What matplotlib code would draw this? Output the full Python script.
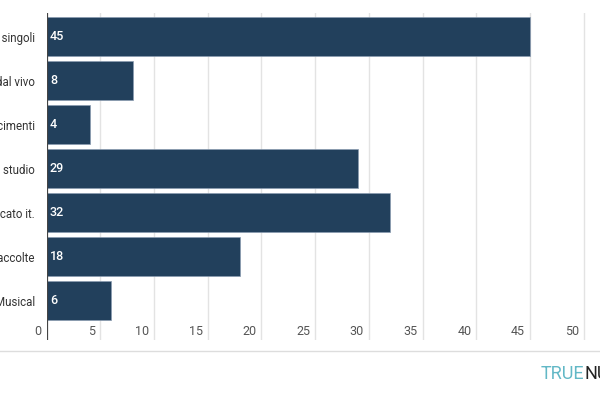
import matplotlib.pyplot as plt
import numpy as np

# dati
categorie = ['EP e singoli', 'Album dal vivo', 'Rifacimenti', 'Album in studio',
             'Fuori mercato it.', 'Raccolte', 'Musical']
valori = [45, 8, 4, 29, 32, 18, 6]
tick_x = [0, 5, 10, 15, 20, 25, 30, 35, 40, 45, 50]

plt.rcParams['font.family'] = ['Roboto', 'DejaVu Sans']

fig = plt.figure(figsize=(6, 4), dpi=100)
fig.patch.set_facecolor('white')
# assi: zero a x=46.7px, 10.74px per unita', da y=13 a y=340
ax = fig.add_axes([46.7 / 600, 1 - 340 / 400, 55 * 10.74 / 600, 327 / 400])

y = np.arange(len(categorie))
ax.barh(y, valori, height=0.886, color='#22405c', edgecolor='#8a9bb0', linewidth=0.5, zorder=3)
ax.set_ylim(6.89, -0.54)
ax.set_xlim(0, 55)

for t in tick_x[1:] + [55]:
    ax.axvline(t, color='#e3e3e3', lw=1, zorder=1)
ax.axvline(0, color='#444444', lw=1.6, zorder=4)

for i, v in enumerate(valori):
    ax.text(0.3, i, str(v), color='white', fontsize=9, fontweight='medium',
            va='center', ha='left', zorder=5)

trans = ax.get_xaxis_transform()
for t in tick_x:
    ax.text(t - 0.45, 0.025, str(t), transform=trans, ha='right', va='center',
            fontsize=9, color='#555555')

ax.set_yticks(y)
ax.set_yticklabels(categorie, fontsize=8.3, color='#333333')
ax.tick_params(axis='y', length=0, pad=8.5)
ax.set_xticks([])
for s in ax.spines.values():
    s.set_visible(False)

# linea di separazione e logo
fig.add_artist(plt.Line2D([0, 1], [1 - 351 / 400, 1 - 351 / 400], color='#dddddd', lw=1))
t1 = fig.text(541 / 600, 1 - 374 / 400, 'TRUE', color='#62b8c6', fontsize=13, va='center', ha='left')
fig.canvas.draw()
bb = t1.get_window_extent()
fig.text(bb.x1 / 600, 1 - 374 / 400, 'NUMBERS', color='#222222', fontsize=13, va='center', ha='left')

fig.savefig('out.png', dpi=100)
